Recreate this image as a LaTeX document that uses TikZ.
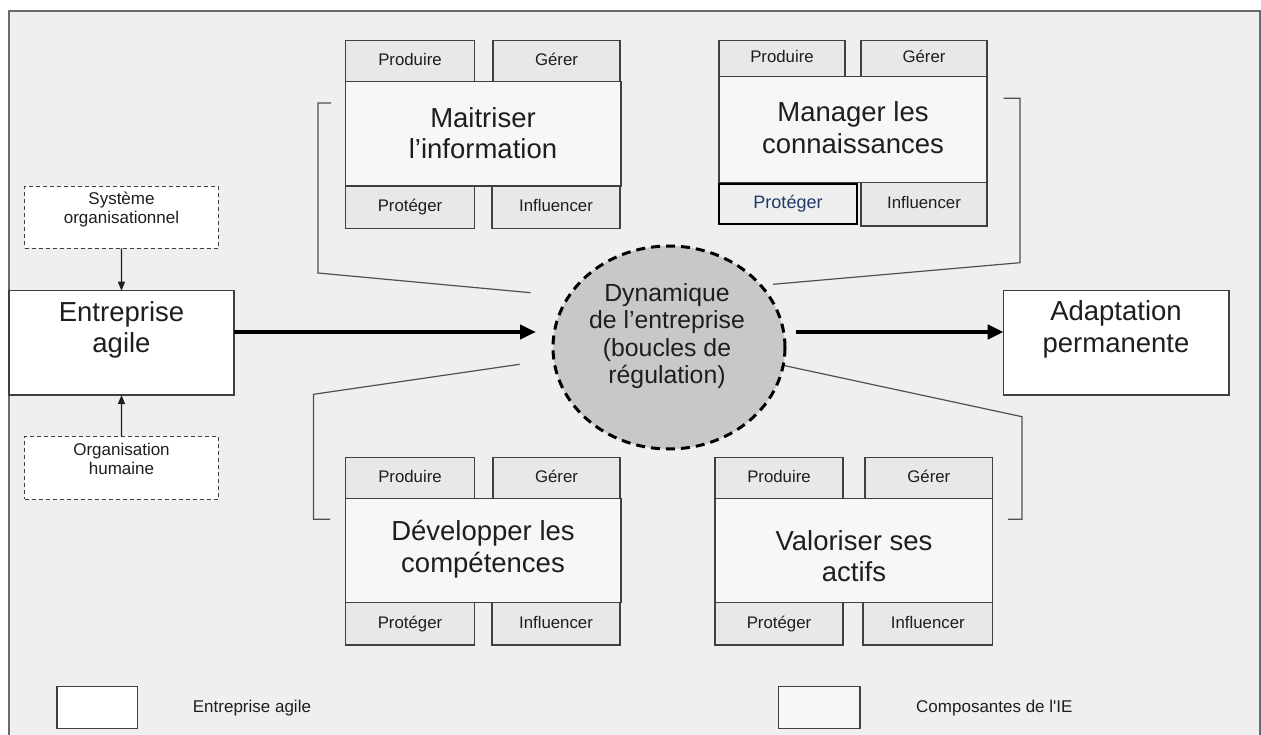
\documentclass[tikz,border=0pt]{standalone}
\usepackage{fontspec}
\setmainfont{Liberation Sans}[Ligatures=TeXOff]
\usetikzlibrary{arrows.meta,shapes.geometric}
\definecolor{bg}{HTML}{EFEFEF}
\definecolor{frm}{HTML}{6A6A6A}
\definecolor{edge}{HTML}{404040}
\definecolor{smallfill}{HTML}{E8E8E8}
\definecolor{mainfill}{HTML}{F7F7F7}
\definecolor{circfill}{HTML}{C8C8C8}
\definecolor{txt}{HTML}{1E1E1E}
\definecolor{blu}{HTML}{1F3A64}
\definecolor{brk}{HTML}{505050}
\tikzset{
 box/.style={draw=edge, line width=1.3pt, inner sep=0pt, outer sep=0pt, text=txt, rectangle},
 smallbox/.style={box, fill=smallfill, font=\fontsize{16.8}{19}\selectfont, text height=12pt, text depth=3.6pt},
 mainbox/.style={box, fill=mainfill},
 whitebox/.style={box, fill=white},
 bluebox/.style={box, draw=black, line width=2.2pt, fill=bg, text=blu, font=\fontsize{18}{20}\selectfont, text height=12.8pt, text depth=3.9pt},
 dashbox/.style={box, line width=1pt, dash pattern=on 4pt off 3pt, fill=white},
 bigtext/.style={align=center, text=txt, font=\fontsize{27.5}{31.5}\selectfont, inner sep=0pt},
 circtext/.style={align=center, text=txt, font=\fontsize{24.8}{27.5}\selectfont, inner sep=0pt},
 smalltext/.style={align=center, text=txt, font=\fontsize{17}{19.3}\selectfont, inner sep=0pt},
 legtext/.style={anchor=west, text=txt, font=\fontsize{17}{19}\selectfont, inner sep=0pt},
 brack/.style={draw=brk, line width=1.2pt},
 thin/.style={draw=txt, line width=1.2pt, -{Triangle[length=9pt,width=7pt]}},
 thick/.style={draw=black, line width=4.5pt, -{Triangle[length=16pt,width=14pt]}},
}
% \bx{style}{name}{x1}{y1}{x2}{y2}{text}
\newcommand\bx[7]{\node[#1, minimum width={(#5-#3)*1pt}, minimum height={(#6-#4)*1pt}] (#2) at ({(#3+#5)/2},{(#4+#6)/2}) {#7};}
\begin{document}
\begin{tikzpicture}[x=1pt,y=-1pt]
\useasboundingbox (0,0) rectangle (1261,735);
\fill[white] (0,0) rectangle (1261,735);
\draw[draw=frm, fill=bg, line width=2pt] (8.5,11) rectangle (1259.5,760);

% bracket lines
\coordinate (tl1) at (331,103); \coordinate (tl2) at (318,103); \coordinate (tl3) at (318,273); \coordinate (tl4) at (530.6,292.7);
\coordinate (tr1) at (1003.7,98.3); \coordinate (tr2) at (1020,98.3); \coordinate (tr3) at (1020,262.7); \coordinate (tr4) at (773,284.3);
\coordinate (bl1) at (519.6,364.3); \coordinate (bl2) at (313.5,394.3); \coordinate (bl3) at (313.5,519.3); \coordinate (bl4) at (330,519.3);
\coordinate (br1) at (783,365.3); \coordinate (br2) at (1022,416.7); \coordinate (br3) at (1022,519.3); \coordinate (br4) at (1007.8,519.3);
\draw[brack] (tl1) -- (tl2) -- (tl3) -- (tl4);
\draw[brack] (tr1) -- (tr2) -- (tr3) -- (tr4);
\draw[brack] (bl1) -- (bl2) -- (bl3) -- (bl4);
\draw[brack] (br1) -- (br2) -- (br3) -- (br4);

% Maitriser l'information
\bx{smallbox}{p1}{345.7}{40.7}{474.3}{81.7}{Produire}
\bx{smallbox}{g1}{493}{40.7}{620}{81.7}{Gérer}
\bx{smallbox}{r1}{345.7}{186}{474.3}{228.7}{Protéger}
\bx{smallbox}{i1}{492}{186}{620}{228.7}{Influencer}
\bx{mainbox}{m1}{345.7}{81.7}{621}{186}{}
\node[bigtext] (m1t) at (483,133) {Maitriser\\l’information};

% Manager les connaissances
\bx{smallbox}{p2}{719}{40.7}{845}{76.7}{Produire}
\bx{smallbox}{g2}{861}{40.7}{987}{76.7}{Gérer}
\bx{smallbox}{i2}{861}{182.7}{987}{226}{Influencer}
\bx{bluebox}{r2}{719}{183.8}{857}{224}{Protéger}
\bx{mainbox}{m2}{719}{76.7}{987}{182.7}{}
\node[bigtext] (m2t) at (853,127.5) {Manager les\\connaissances};

% Developper les competences
\bx{smallbox}{p3}{345.7}{457.3}{474.3}{498.7}{Produire}
\bx{smallbox}{g3}{493}{457.3}{620}{498.7}{Gérer}
\bx{smallbox}{r3}{345.7}{602.7}{474.3}{645}{Protéger}
\bx{smallbox}{i3}{492}{602.7}{620}{645}{Influencer}
\bx{mainbox}{m3}{345.7}{498.7}{621}{602.7}{}
\node[bigtext] (m3t) at (483,549) {Développer les\\compétences};

% Valoriser ses actifs
\bx{smallbox}{p4}{715}{457.3}{843}{498.7}{Produire}
\bx{smallbox}{g4}{865}{457.3}{992.7}{498.7}{Gérer}
\bx{smallbox}{r4}{715}{602.7}{843}{645}{Protéger}
\bx{smallbox}{i4}{863}{602.7}{992.7}{645}{Influencer}
\bx{mainbox}{m4}{715}{498.7}{992.7}{602.7}{}
\node[bigtext] (m4t) at (854,556) {Valoriser ses\\actifs};

% Entreprise agile
\bx{whitebox}{ea}{9}{290.7}{234}{395}{}
\node[bigtext] (eat) at (121.5,330) {Entreprise\\agile};
\bx{dashbox}{so}{24.5}{186.7}{218.4}{248.3}{}
\node[smalltext] (sot) at (121.5,209.5) {Système\\organisationnel};
\bx{dashbox}{oh}{24.5}{436.7}{218.4}{499.3}{}
\node[smalltext] (oht) at (121.5,459) {Organisation\\humaine};
\draw[thin] (so.south) -- (ea.north);
\draw[thin] (oh.north) -- (ea.south);

% Adaptation permanente
\bx{whitebox}{ad}{1003.7}{290.7}{1229}{395}{}
\node[bigtext] (adt) at (1116,329.5) {Adaptation\\permanente};

% Dynamique
\node[ellipse, draw=black, fill=circfill, line width=3pt, dash pattern=on 9pt off 6pt, minimum width=232pt, minimum height=203pt, inner sep=0pt] (dy) at (669,347.5) {};
\node[circtext] (dyt) at (667,336) {Dynamique\\de l’entreprise\\(boucles de\\régulation)};

\coordinate (in) at (536,332);
\coordinate (out) at (795.5,332);
\draw[thick] (ea.east |- in) -- (in);
\draw[thick] (out) -- (ad.west |- out);

% legend
\bx{whitebox}{l1}{57}{686.7}{137.6}{728.3}{}
\node[legtext] (l1t) at (192.7,708.3) {Entreprise agile};
\bx{mainbox}{l2}{778.4}{686.7}{860}{728.3}{}
\node[legtext] (l2t) at (916,708.3) {Composantes de l'IE};
\end{tikzpicture}
\end{document}
